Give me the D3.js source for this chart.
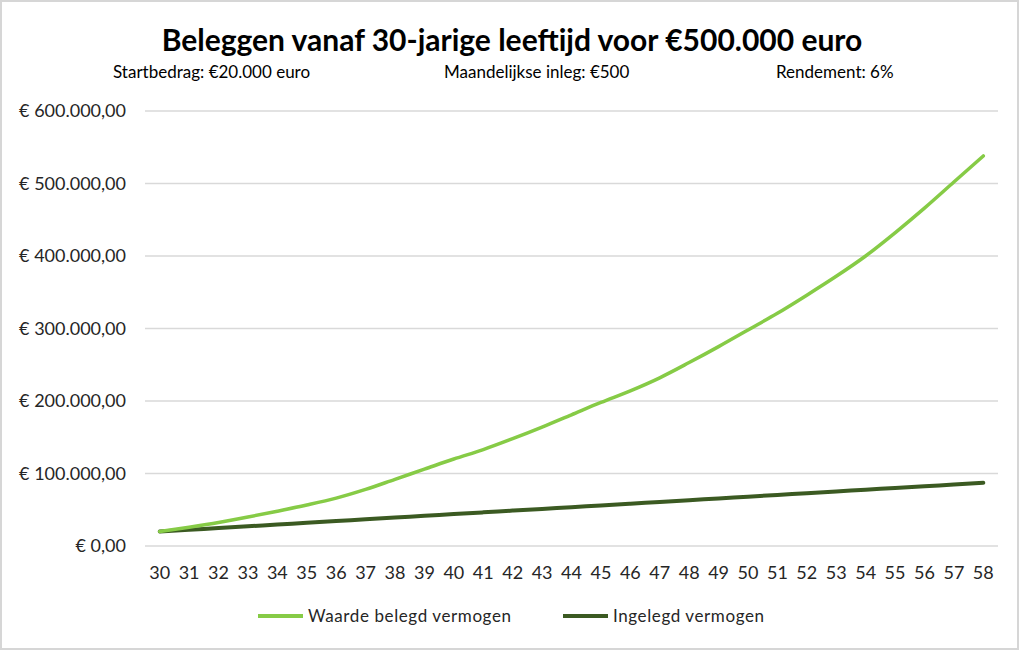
<!DOCTYPE html>
<html>
<head>
<meta charset="utf-8">
<script src="https://cdn.jsdelivr.net/npm/d3@7"></script>
<style>
  body { margin: 0; background: #fff; }
  text { font-family: Lato, "Open Sans", sans-serif; }
</style>
</head>
<body>
<svg id="chart"></svg>
<script>
const ages = [30,31,32,33,34,35,36,37,38,39,40,41,42,43,44,45,46,47,48,49,50,51,52,53,54,55,56,57,58];
const waarde = [20000,26000,32500,40000,48000,56500,66000,78000,92000,106000,120000,133000,148000,164000,181000,198000,214000,232000,253000,275000,298000,321000,346000,372000,400000,432000,466000,502000,538000];
const ingelegd = [20000,22400,24800,27200,29600,32000,34400,36800,39200,41600,44000,46400,48800,51200,53600,56000,58400,60800,63200,65600,68000,70400,72800,75200,77600,80000,82400,84800,87200];
const yTicks = [0,100000,200000,300000,400000,500000,600000];
const seriesNames = ['Waarde belegd vermogen', 'Ingelegd vermogen'];
const seriesColors = ['#86cb46', '#3b5a22'];

const width = 1024, height = 652;
const margin = {top: 111, right: 26, bottom: 106, left: 145};

const svg = d3.select('#chart')
    .attr('width', width)
    .attr('height', height);

svg.append('rect')
    .attr('x', 1).attr('y', 1)
    .attr('width', 1017).attr('height', 648)
    .attr('fill', '#fff')
    .attr('stroke', '#d6d6d6')
    .attr('stroke-width', 2);

const inner_width = width - margin.left - margin.right;
const inner_height = height - margin.top - margin.bottom;

const chart = svg.append('g')
    .attr('transform', `translate(${margin.left}, ${margin.top})`);

const xscale = d3.scaleBand()
    .domain(ages)
    .range([0, inner_width]);

const yscale = d3.scaleLinear()
    .domain([0, 600000])
    .range([inner_height, 0]);

const euro = d => '€ ' + d3.format(',.2f')(d).replace(/,/g, 'X').replace('.', ',').replace(/X/g, '.');

// gridlines
chart.append('g')
    .selectAll('line')
    .data(yTicks)
    .join('line')
    .attr('x1', 0)
    .attr('x2', inner_width)
    .attr('y1', d => yscale(d))
    .attr('y2', d => yscale(d))
    .attr('stroke', '#d9d9d9')
    .attr('stroke-width', 1.5);

const yaxis = d3.axisLeft(yscale)
    .tickValues(yTicks)
    .tickFormat(euro)
    .tickSize(0)
    .tickPadding(19);

const yaxis_group = chart.append('g').call(yaxis);
yaxis_group.select('.domain').remove();
yaxis_group.selectAll('text')
    .style('font-size', '18px')
    .attr('fill', '#262626');

const xaxis = d3.axisBottom(xscale)
    .tickSize(0)
    .tickPadding(20);

const xaxis_group = chart.append('g')
    .attr('transform', `translate(0, ${inner_height})`)
    .call(xaxis);
xaxis_group.select('.domain').remove();
xaxis_group.selectAll('text')
    .style('font-size', '18px')
    .attr('fill', '#262626');

const xc = d => xscale(d) + xscale.bandwidth() / 2;

const line = d3.line()
    .x(d => xc(d.age))
    .y(d => yscale(d.value))
    .curve(d3.curveMonotoneX);

[ingelegd, waarde].forEach((vals, i) => {
    const idx = i === 0 ? 1 : 0;
    chart.append('path')
        .attr('d', line(ages.map((a, j) => ({age: a, value: vals[j]}))))
        .attr('fill', 'none')
        .attr('stroke', seriesColors[idx])
        .attr('stroke-width', idx === 0 ? 3.5 : 4)
        .attr('stroke-linecap', 'round')
        .attr('stroke-linejoin', 'round');
});

// title
svg.append('text')
    .attr('x', 512)
    .attr('y', 51)
    .attr('text-anchor', 'middle')
    .style('font-size', '30px')
    .style('font-weight', 'bold')
    .attr('fill', '#000')
    .text('Beleggen vanaf 30-jarige leeftijd voor €500.000 euro');

const subs = [
    {x: 113, t: 'Startbedrag: €20.000 euro'},
    {x: 444, t: 'Maandelijkse inleg: €500'},
    {x: 776, t: 'Rendement: 6%'}
];
svg.selectAll('.sub')
    .data(subs)
    .join('text')
    .attr('class', 'sub')
    .attr('x', d => d.x)
    .attr('y', 78)
    .style('font-size', '17px')
    .attr('fill', '#000')
    .text(d => d.t);

// legend
const legendX = [258, 563];
const legend = svg.append('g');
seriesNames.forEach((name, i) => {
    legend.append('line')
        .attr('x1', legendX[i]).attr('x2', legendX[i] + 45)
        .attr('y1', 616).attr('y2', 616)
        .attr('stroke', seriesColors[i])
        .attr('stroke-width', 4);
    legend.append('text')
        .attr('x', legendX[i] + 50)
        .attr('y', 622)
        .style('font-size', '17px')
        .style('letter-spacing', '0.6px')
        .attr('fill', '#262626')
        .text(name);
});
</script>
</body>
</html>
